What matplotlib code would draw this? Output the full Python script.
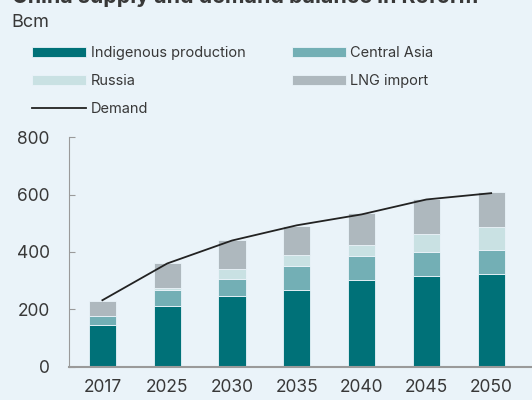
import numpy as np
import matplotlib.pyplot as plt

# Supply/demand balance data (Bcm)

years = ["2017", "2025", "2030", "2035", "2040", "2045", "2050"]

indigenous = [146, 213, 246, 268, 301, 317, 324]
central_asia = [32, 55, 60, 84, 84, 83, 83]
russia = [0, 6, 35, 39, 39, 63, 79]
lng = [51, 89, 101, 100, 111, 122, 122]
demand = [232, 360, 440, 493, 531, 583, 605]

# Styling

bg = "#EAF3F9"
text_col = "#383838"
colors = {
    "Indigenous production": "#007178",
    "Central Asia": "#73AFB5",
    "Russia": "#C9E1E3",
    "LNG import": "#AEB8BE",
}

plt.rcParams["font.family"] = ["Inter", "DejaVu Sans"]

fig = plt.figure(figsize=(5.32, 4.0), dpi=100)
fig.patch.set_facecolor(bg)

ax = fig.add_axes([0.130, 0.083, 0.870, 0.574])
ax.set_facecolor(bg)

x = np.arange(len(years))
width = 0.42

bottom = np.zeros(len(years))
bars = {}
for name, vals in zip(colors, [indigenous, central_asia, russia, lng]):
    bars[name] = ax.bar(x, vals, width, bottom=bottom, color=colors[name],
                        edgecolor=bg, linewidth=0.6, label=name)
    bottom += np.array(vals)

line, = ax.plot(x, demand, color="#222222", linewidth=1.3, label="Demand")

# Axes

ax.set_xlim(-0.513, 6.63)
ax.set_ylim(0, 800)
ax.set_yticks([0, 200, 400, 600, 800])
ax.set_xticks(x)
ax.set_xticklabels(years)

for side in ["top", "right"]:
    ax.spines[side].set_visible(False)
ax.spines["left"].set_color("#9A9A9A")
ax.spines["bottom"].set_color("#9A9A9A")
ax.spines["bottom"].set_linewidth(1.5)

ax.tick_params(axis="y", direction="in", length=4, color="#9A9A9A",
               labelsize=12.5, labelcolor=text_col, pad=14)
ax.tick_params(axis="x", length=0, labelsize=12.5, labelcolor=text_col, pad=9)

# Title and unit

fig.text(0.022, 1 - 3 / 400, "China supply and demand balance in Reform",
         fontsize=15.4, fontweight="bold", color=text_col, va="baseline")
fig.text(0.022, 1 - 27 / 400, "Bcm", fontsize=13, color=text_col, va="baseline")

# Legend, filled row by row: column one first, then column two
order = ["Indigenous production", "Russia", "Demand", "Central Asia", "LNG import"]
handles = [line if n == "Demand" else bars[n] for n in order]

fig.legend(handles, order,
           loc="upper left", bbox_to_anchor=(0.036, 0.9175), ncol=2,
           frameon=False, fontsize=10.5, labelcolor=text_col,
           handlelength=3.7, handleheight=0.7, handletextpad=0.3,
           columnspacing=3.2, labelspacing=0.95)

plt.savefig("out.png", dpi=100, facecolor=bg)
